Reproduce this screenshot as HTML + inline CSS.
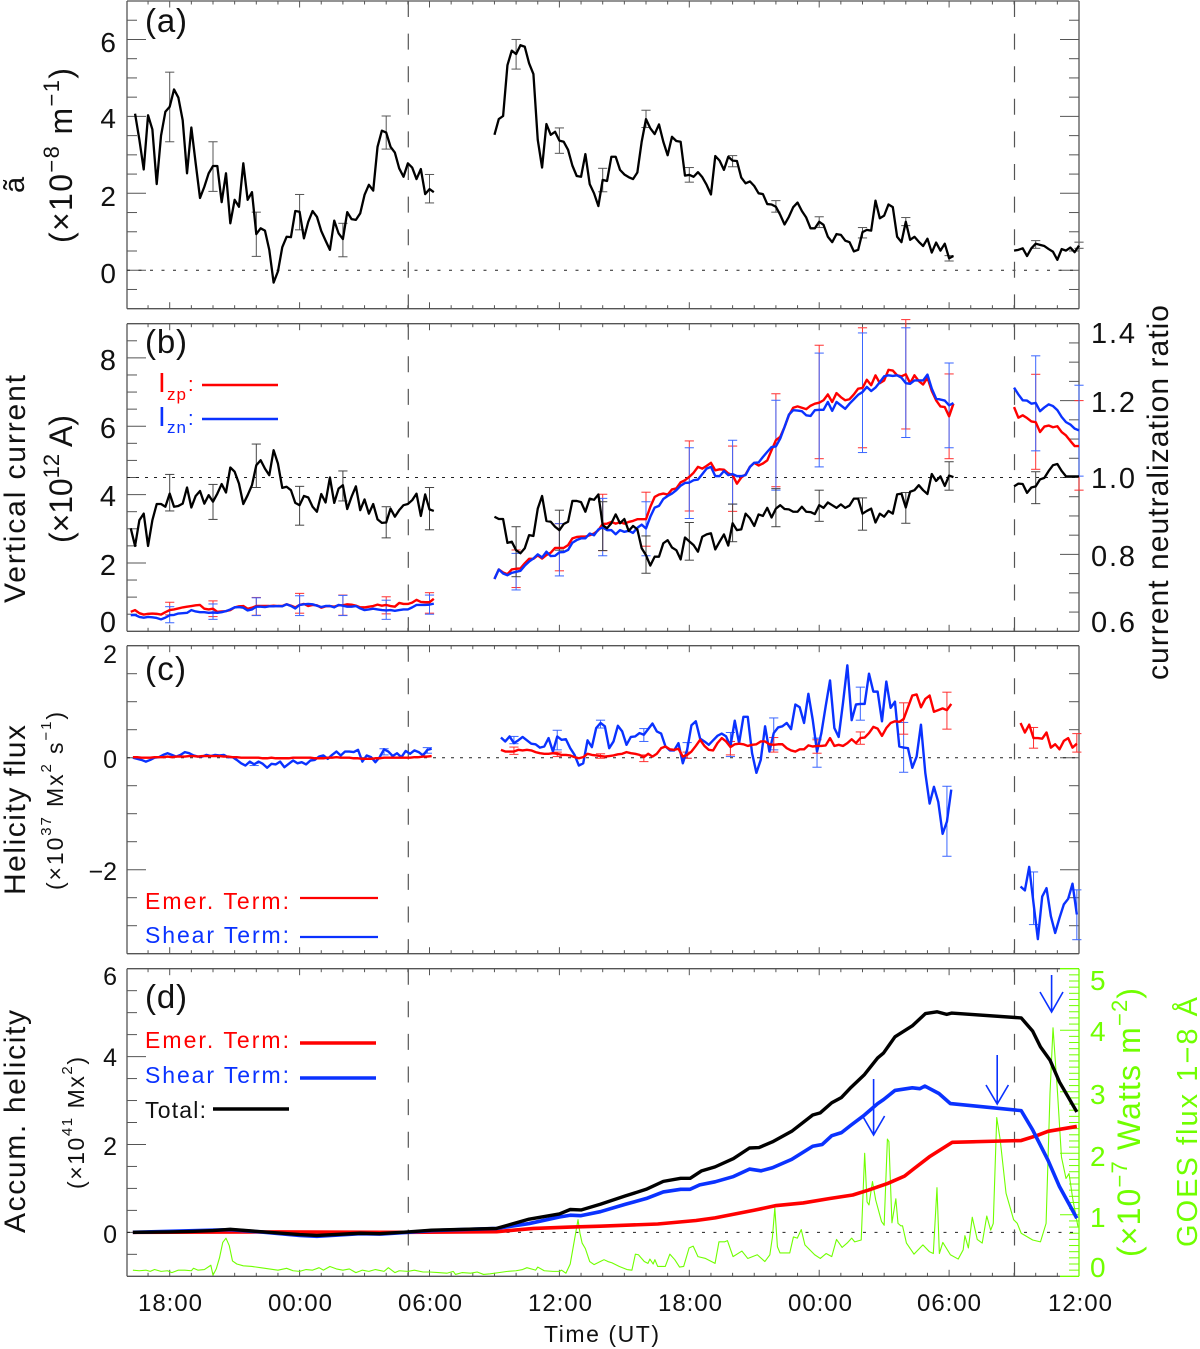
<!DOCTYPE html>
<html lang="en">
<head>
<meta charset="utf-8">
<title>Active region time series</title>
<style>
html,body{margin:0;padding:0;background:#fff}
svg{display:block}
text{font-family:"Liberation Sans","DejaVu Sans",sans-serif;fill:#111}
.r{fill:#ff0000}.b{fill:#0a32ff}.g{fill:#70ff00}
</style>
</head>
<body>
<svg id="chart" xmlns="http://www.w3.org/2000/svg" width="1200" height="1349" viewBox="0 0 1200 1349">
<g id="marks"></g>
<g font-size="33">
<text x="145" y="32" textLength="42">(a)</text>
<text x="145" y="353" textLength="42">(b)</text>
<text x="145" y="680" textLength="41">(c)</text>
<text x="145" y="1008" textLength="42">(d)</text>
</g>
<g font-size="28" text-anchor="end">
<text x="116" y="52">6</text>
<text x="116" y="128">4</text>
<text x="116" y="206">2</text>
<text x="116" y="283">0</text>
</g>
<g font-size="29" text-anchor="end">
<text x="116" y="370">8</text>
<text x="116" y="438">6</text>
<text x="116" y="506">4</text>
<text x="116" y="575">2</text>
<text x="116" y="632">0</text>
</g>
<g font-size="29">
<text x="1091" y="343" textLength="44">1.4</text>
<text x="1091" y="412" textLength="44">1.2</text>
<text x="1091" y="488" textLength="44">1.0</text>
<text x="1091" y="566" textLength="44">0.8</text>
<text x="1091" y="632" textLength="44">0.6</text>
</g>
<g font-size="25" text-anchor="end">
<text x="117" y="663">2</text>
<text x="117" y="768">0</text>
<text x="117" y="880">−2</text>
</g>
<g font-size="25" text-anchor="end">
<text x="117" y="985">6</text>
<text x="117" y="1066">4</text>
<text x="117" y="1155">2</text>
<text x="117" y="1243">0</text>
</g>
<g font-size="28" class="g">
<text class="g" x="1090" y="990">5</text>
<text class="g" x="1090" y="1041">4</text>
<text class="g" x="1090" y="1104">3</text>
<text class="g" x="1090" y="1166">2</text>
<text class="g" x="1090" y="1227">1</text>
<text class="g" x="1090" y="1277">0</text>
</g>
<g font-size="24" text-anchor="middle">
<text x="170" y="1311" textLength="64">18:00</text>
<text x="300" y="1311" textLength="64">00:00</text>
<text x="430" y="1311" textLength="64">06:00</text>
<text x="560" y="1311" textLength="64">12:00</text>
<text x="690" y="1311" textLength="64">18:00</text>
<text x="820" y="1311" textLength="64">00:00</text>
<text x="949" y="1311" textLength="64">06:00</text>
<text x="1080" y="1311" textLength="64">12:00</text>
</g>
<text x="544" y="1342" font-size="23" textLength="115">Time  (UT)</text>

<text transform="translate(24,193) rotate(-90)" font-size="29">ã</text>
<text transform="translate(72,243) rotate(-90)" font-size="32" xml:space="preserve" textLength="175">(×10<tspan dy="-13" font-size="22">−8</tspan><tspan dy="13"> m</tspan><tspan dy="-13" font-size="22">−1</tspan><tspan dy="13">)</tspan></text>
<text transform="translate(25,603) rotate(-90)" font-size="30" textLength="228">Vertical  current</text>
<text transform="translate(72,543) rotate(-90)" font-size="32" xml:space="preserve" textLength="128">(×10<tspan dy="-13" font-size="22">12</tspan><tspan dy="13"> A)</tspan></text>
<text transform="translate(1168,680) rotate(-90)" font-size="30" textLength="375">current  neutralization  ratio</text>
<text transform="translate(25,895) rotate(-90)" font-size="30" textLength="170">Helicity  flux</text>
<text transform="translate(63,890) rotate(-90)" font-size="23" xml:space="preserve" textLength="178">(×10<tspan dy="-12" font-size="15">37</tspan><tspan dy="12"> Mx</tspan><tspan dy="-12" font-size="15">2</tspan><tspan dy="12"> s</tspan><tspan dy="-12" font-size="15">−1</tspan><tspan dy="12">)</tspan></text>
<text transform="translate(25,1233) rotate(-90)" font-size="30" textLength="223">Accum.  helicity</text>
<text transform="translate(84,1189) rotate(-90)" font-size="23" xml:space="preserve" textLength="132">(×10<tspan dy="-12" font-size="15">41</tspan><tspan dy="12"> Mx</tspan><tspan dy="-12" font-size="15">2</tspan><tspan dy="12">)</tspan></text>
<text class="g" transform="translate(1140,1257) rotate(-90)" font-size="32" xml:space="preserve" textLength="269">(×10<tspan dy="-13" font-size="22">−7</tspan><tspan dy="13"> Watts m</tspan><tspan dy="-13" font-size="22">−2</tspan><tspan dy="13">)</tspan></text>
<text class="g" transform="translate(1197,1247) rotate(-90)" font-size="29" textLength="250">GOES  flux  1−8  Å</text>

<g>
<text class="r" x="158" y="392" font-size="28">I</text>
<text class="r" x="167" y="400" font-size="17" textLength="19">zp</text>
<text class="r" x="188" y="391" font-size="20">:</text>
<line x1="202" y1="385" x2="278" y2="385" stroke="#ff0000" stroke-width="2.4"/>
<text class="b" x="158" y="426" font-size="28">I</text>
<text class="b" x="167" y="433" font-size="17" textLength="19">zn</text>
<text class="b" x="188" y="425" font-size="20">:</text>
<line x1="202" y1="419" x2="278" y2="419" stroke="#0a32ff" stroke-width="2.4"/>
</g>
<g font-size="23">
<text class="r" x="145" y="909" textLength="144">Emer. Term:</text>
<line x1="300" y1="898" x2="378" y2="898" stroke="#ff0000" stroke-width="2.2"/>
<text class="b" x="145" y="943" textLength="144">Shear Term:</text>
<line x1="300" y1="937" x2="378" y2="937" stroke="#0a32ff" stroke-width="2.2"/>
</g>
<g font-size="23">
<text class="r" x="145" y="1048" textLength="144">Emer. Term:</text>
<line x1="300" y1="1043" x2="376" y2="1043" stroke="#ff0000" stroke-width="3.4"/>
<text class="b" x="145" y="1083" textLength="144">Shear Term:</text>
<line x1="300" y1="1078" x2="376" y2="1078" stroke="#0a32ff" stroke-width="3.4"/>
<text x="145" y="1118" textLength="61">Total:</text>
<line x1="213" y1="1109" x2="289" y2="1109" stroke="#000" stroke-width="3.4"/>
</g>
<g fill="none" stroke="#0a32ff" stroke-width="1.6">
<path d="M873.6 1079V1135M862.6 1116L873.6 1135L884.6 1116"/>
<path d="M997.2 1055V1104M986 1085L997.2 1104L1008.4 1085"/>
<path d="M1051.6 975V1012M1040 992L1051.6 1012L1063 992"/>
</g>
</svg>
<script>
// ---- time segments (hours since the first 18:00 tick), 12-minute cadence ----
const cadence = 0.2;
const alphaStarts = [-1.6, 15, 39];
const currentStarts = [-1.8, 15, 39];
const fluxStarts = [-1.7, 15.3, 39.3];

// ---- panel (a) ----
const alphaSeg1 = [4.07,3.39,2.62,4.03,3.66,2.24,3.5,4.12,4.25,4.7,4.49,3.9,2.52,3.71,2.78,1.88,2.17,2.52,2.71,2.71,1.77,2.52,1.22,1.83,1.65,2.78,1.83,2.03,0.94,1.09,1.03,0.53,-0.32,-0.03,0.6,0.87,0.86,1.54,1.52,0.83,1.26,1.54,1.39,1.02,0.77,0.53,1.29,0.96,0.81,1.51,1.33,1.31,1.48,1.96,2.22,2.07,3.21,3.63,3.58,3.21,3.06,2.65,2.43,2.78,2.67,2.37,2.63,1.98,2.11,2.03];
const alphaSeg2 = [3.52,3.93,4.01,5.33,5.71,5.62,5.85,5.81,5.38,5.1,3.39,2.67,3.8,3.52,3.6,3.37,3.34,3.13,2.72,2.45,2.43,3.02,2.24,2.0,1.67,2.35,2.32,2.95,2.95,2.61,2.49,2.42,2.37,2.54,3.34,3.93,3.69,3.54,3.79,3.34,2.99,3.47,3.36,3.34,2.46,2.48,2.43,2.55,2.42,2.22,1.97,2.97,2.85,2.61,2.95,2.85,2.84,2.41,2.26,2.31,2.19,2.0,1.98,1.72,1.71,1.65,1.44,1.19,1.39,1.64,1.76,1.54,1.37,1.09,1.09,1.26,1.18,0.87,0.73,0.94,0.92,0.77,0.73,0.49,0.53,0.99,1.05,1.03,1.81,1.35,1.42,1.71,1.64,0.87,0.73,1.26,0.79,0.87,0.74,0.63,0.82,0.46,0.72,0.51,0.69,0.31,0.37];
const alphaSeg3 = [0.51,0.53,0.57,0.37,0.57,0.69,0.66,0.63,0.55,0.48,0.27,0.55,0.51,0.59,0.47,0.64];
const alphaErrT = [0,2,4,6,8,10,12,16,18,20,22,24,26,28,30,32,34,36,40,42];
const alphaErrHi = [5.15,3.34,1.51,1.97,1.22,4.01,2.49,6.0,3.7,2.65,4.16,2.67,2.98,1.81,1.39,1.11,1.37,0.38,0.77,0.73];
const alphaErrLo = [3.34,2.05,0.36,1.05,0.35,3.15,1.75,5.23,3.04,2.04,3.71,2.29,2.69,1.51,1.11,0.84,1.16,0.24,0.57,0.57];

// ---- panel (b) ----
const ratioSeg1 = [.868,.822,.889,.906,.822,.889,.931,.931,.924,.958,.924,.926,.932,.974,.922,.952,.965,.932,.954,.937,.958,.983,.961,1.026,1.015,.984,.931,.954,.980,1.032,1.045,1.023,1.006,1.071,1.036,.973,.976,.967,.934,.928,.952,.948,.924,.911,.957,.935,1.0,.934,.971,.980,.918,.950,.977,.915,.943,.906,.931,.891,.882,.883,.919,.898,.915,.928,.931,.941,.958,.900,.956,.917,.913];
const ratioSeg2 = [.898,.892,.892,.830,.833,.811,.803,.816,.850,.848,.919,.952,.887,.885,.872,.863,.879,.885,.939,.939,.936,.911,.945,.942,.956,.876,.868,.881,.904,.881,.892,.861,.874,.865,.816,.798,.771,.794,.794,.829,.837,.818,.811,.787,.844,.834,.824,.807,.846,.852,.855,.813,.833,.852,.823,.881,.863,.865,.906,.894,.874,.904,.900,.921,.896,.919,.928,.918,.917,.911,.911,.924,.911,.910,.905,.928,.921,.935,.928,.921,.930,.921,.927,.945,.945,.906,.913,.919,.883,.906,.898,.913,.906,.956,.958,.922,.963,.967,.980,.967,.957,1.009,.991,1.003,.978,1.005,1.001];
const ratioSeg3 = [.977,.984,.983,.960,.974,.977,.995,.999,1.017,1.032,1.035,1.017,1.003,1.003,1.003,1.003];
const izpSeg1 = [.57,.62,.53,.49,.51,.52,.51,.49,.56,.62,.64,.67,.70,.72,.74,.76,.77,.66,.64,.66,.57,.58,.59,.62,.70,.73,.74,.66,.69,.74,.74,.74,.74,.75,.74,.74,.79,.75,.70,.77,.80,.74,.77,.76,.69,.73,.74,.72,.76,.76,.79,.78,.75,.70,.70,.72,.74,.78,.75,.77,.74,.72,.83,.80,.80,.84,.92,.86,.85,.85,.95];
const izpSeg2 = [1.53,1.81,1.72,1.67,1.81,1.83,1.84,1.99,2.12,2.12,2.22,2.13,2.23,2.30,2.44,2.44,2.44,2.52,2.72,2.76,2.77,2.77,2.81,2.86,2.96,3.14,3.15,3.20,3.15,3.19,3.15,3.20,3.23,3.28,3.28,3.28,3.64,3.93,4.00,4.03,4.00,4.15,4.18,4.36,4.42,4.52,4.64,4.81,4.76,4.84,4.93,4.71,4.74,4.73,4.62,4.57,4.32,4.50,4.59,4.81,4.93,4.85,4.91,5.00,5.30,5.59,5.69,5.98,6.32,6.54,6.58,6.54,6.50,6.60,6.66,6.69,6.76,6.93,6.71,6.97,6.85,6.76,6.79,6.93,7.10,7.12,7.36,7.20,7.49,7.26,7.34,7.65,7.63,7.49,7.46,7.52,7.26,7.49,7.32,7.22,7.42,7.03,6.76,6.58,6.56,6.29,6.66];
const izpSeg3 = [6.56,6.25,6.32,6.24,6.14,6.12,5.83,5.99,6.02,5.97,6.00,5.83,5.73,5.57,5.42,5.42];
const iznSeg1 = [.47,.48,.42,.40,.42,.41,.39,.35,.40,.47,.48,.52,.53,.54,.62,.58,.56,.56,.54,.55,.54,.56,.59,.64,.70,.71,.69,.61,.64,.72,.72,.71,.73,.73,.74,.73,.79,.74,.67,.77,.79,.80,.79,.75,.71,.74,.74,.70,.77,.75,.72,.72,.74,.67,.62,.64,.66,.64,.62,.61,.62,.60,.62,.64,.64,.70,.77,.77,.77,.78,.81];
const iznSeg2 = [1.53,1.81,1.69,1.64,1.71,1.74,1.77,1.92,2.04,2.13,2.25,2.16,2.33,2.20,2.21,2.31,2.32,2.38,2.59,2.67,2.72,2.72,2.86,2.81,2.98,3.04,2.96,2.96,2.84,2.96,2.91,2.94,2.88,3.03,3.12,3.01,3.35,3.62,3.67,3.87,3.96,4.03,4.13,4.26,4.34,4.35,4.42,4.44,4.60,4.76,4.81,4.54,4.54,4.69,4.57,4.60,4.54,4.54,4.57,4.81,4.93,4.94,5.10,5.25,5.39,5.41,5.64,5.98,6.34,6.47,6.46,6.44,6.32,6.30,6.47,6.48,6.48,6.71,6.45,6.71,6.61,6.51,6.66,6.79,6.92,7.00,7.15,7.03,7.13,7.29,7.46,7.49,7.47,7.49,7.42,7.26,7.24,7.34,7.34,7.34,7.51,7.10,6.81,6.78,6.75,6.61,6.68];
const iznSeg3 = [7.13,6.93,6.76,6.75,6.66,6.68,6.44,6.55,6.64,6.59,6.47,6.27,6.12,6.05,5.93,5.88];
const currentErrT = [0,2,4,6,8,10,12,16,18,20,22,24,26,28,30,32,34,36,40,42];
const izpErrHi = [.85,.89,.99,1.11,1.06,1.01,1.13,2.38,3.15,4.01,4.07,5.57,5.42,6.95,8.37,8.88,9.12,7.53,7.52,6.75];
const izpErrLo = [.48,.43,.47,.53,.47,.51,.53,1.28,1.77,2.36,2.49,3.52,3.51,4.23,5.05,5.37,5.92,5.05,4.74,4.13];
const iznErrHi = [.72,.80,.98,1.04,1.05,.91,1.06,2.28,3.15,3.89,3.79,5.37,5.59,6.76,8.14,8.73,8.88,7.85,8.06,7.20];
const iznErrLo = [.25,.35,.46,.46,.46,.35,.50,1.21,1.62,2.21,2.21,3.30,3.72,4.13,4.81,5.23,5.67,5.37,5.28,4.54];
const ratioErrT = [0,2,4,6,8,10,12,16,18,20,22,24,26,28,30,32,34,36,40];
const ratioErrHi = [1.008,.982,1.087,.977,1.017,.924,.974,.872,.915,.937,.848,.883,.931,.971,.967,.947,.961,1.041,1.015];
const ratioErrLo = [.913,.891,.974,.876,.939,.843,.864,.742,.811,.810,.751,.785,.833,.872,.886,.863,.881,.967,.932];

// ---- panel (c) ----
const shearSeg1 = [0,-.02,-.04,-.07,-.04,0,.01,.05,.08,.05,.02,.05,.10,.08,.04,.02,.02,.05,.03,.05,.04,.05,.01,.01,-.04,-.10,-.14,-.07,-.12,-.07,-.11,-.18,-.11,-.12,-.07,-.17,-.11,-.05,-.10,-.08,-.12,-.05,-.04,.02,.04,-.02,.05,.11,.04,.11,.11,.10,.14,-.07,.04,.01,-.08,.01,.15,.11,.03,.08,.01,.12,.07,.13,.10,.04,.14,.16];
const shearSeg2 = [.36,.29,.38,.26,.31,.37,.31,.25,.24,.18,.20,.35,.11,.38,.32,.33,.17,.05,-.14,-.10,.31,.19,.53,.62,.56,.17,.29,.57,.47,.23,.37,.38,.44,.41,.51,.61,.47,.43,.20,.13,.13,.26,-.10,.14,.58,.65,.34,.29,.23,.31,.39,.43,.38,.20,.66,.26,.73,.73,.08,-.27,-.04,.56,.11,.44,.54,.56,.62,.51,.95,.90,.62,1.14,.68,.11,.44,.92,1.38,.53,.37,.98,1.65,.67,.95,.96,.96,1.50,1.18,1.18,.65,1.36,.89,1.00,.20,.18,.17,-.18,.02,.59,-.27,-.82,-.52,-.79,-1.36,-1.14,-.57];
const shearSeg3 = [-2.30,-2.37,-1.95,-2.60,-3.24,-2.48,-2.33,-2.83,-3.13,-2.86,-2.62,-2.52,-2.25,-2.80];
const emerSeg1 = [.01,.01,0,0,0,.01,.01,.01,.02,.01,.02,.02,.02,.03,.03,.02,.03,.03,.03,.03,.03,.02,.02,.01,.01,0,0,0,0,0,-.01,-.01,0,-.01,-.01,-.01,-.01,0,0,0,0,0,-.01,-.01,-.01,0,0,.01,0,0,0,-.01,-.01,-.02,-.02,-.02,-.01,-.01,0,0,0,0,0,0,0,.01,.01,.02,.02,.03];
const emerSeg2 = [.14,.11,.11,.11,.14,.13,.14,.13,.10,.08,.07,.07,.08,.07,.05,.05,.04,.01,-.01,.01,.07,.05,.04,.03,.02,.03,.04,.06,.07,.10,.08,.07,.05,.01,.07,.02,.07,.17,.20,.15,.14,.16,.02,.05,.11,.21,.32,.21,.14,.13,.26,.35,.29,.19,.24,.25,.24,.21,.23,.24,.29,.29,.24,.23,.24,.24,.17,.13,.11,.15,.15,.22,.20,.21,.21,.22,.35,.21,.23,.21,.26,.33,.26,.35,.36,.44,.55,.52,.39,.53,.62,.65,.64,.69,.90,1.11,1.13,.90,1.05,1.11,.82,.85,.88,.85,.96];
const emerSeg3 = [.62,.45,.59,.35,.35,.34,.45,.18,.24,.15,.30,.35,.18,.25];
const shearErrT = [3.9,9.9,11.9,15.9,17.9,19.9,21.9,23.9,25.9,27.9,29.9,31.9,33.9,35.9,39.9,41.9];
const shearErrHi = [-.10,.16,.18,.38,.49,.67,.52,.27,.45,.71,.35,1.26,.63,-.51,-2.04,-2.36];
const shearErrLo = [-.14,.05,.08,.25,.14,.53,.29,-.01,.02,.14,-.17,.67,-.26,-1.76,-2.98,-3.25];
const emerErrT = [15.9,17.9,19.9,21.9,23.9,25.9,27.9,29.9,31.9,33.9,35.9,39.9,41.9];
const emerErrHi = [.19,.10,.07,.05,.10,.29,.36,.32,.46,.98,1.17,.54,.43];
const emerErrLo = [.06,.02,-.01,-.07,-.01,.05,.10,.08,.24,.42,.51,.17,.10];

// ---- panel (d) ----
const totalT = [-1.7,0,1,2,2.8,4.2,6,6.8,8.8,9.7,11,12.1,15.1,16.6,18,18.5,19,19.89,21.05,22.01,22.80,23.60,24.04,24.57,25.19,26.04,26.78,27.22,27.84,28.73,29.70,30.05,30.58,31.03,31.47,32.09,32.70,32.97,33.50,34.30,34.91,35.44,35.89,36.11,39.33,39.86,40.22,40.66,41.10,41.90];
const totalV = [0,.01,.02,.04,.07,.015,-.05,-.07,-.02,-.03,.01,.05,.09,.30,.42,.52,.51,.64,.83,.98,1.16,1.23,1.23,1.40,1.49,1.68,1.92,1.93,2.06,2.30,2.67,2.72,2.95,3.07,3.30,3.59,3.97,4.08,4.45,4.70,4.98,5.02,4.96,4.99,4.88,4.58,4.22,3.92,3.42,2.74];
const shearAccT = [-1.7,2.8,4.2,6,6.8,8.8,9.7,11,12.1,15.1,16.6,18,18.5,19,19.89,21.05,22.01,22.80,23.60,24.04,24.48,25.19,26.04,26.78,27.31,27.84,28.73,29.70,30.14,30.58,31.03,31.47,32.09,32.70,32.97,33.50,34.30,34.65,34.88,35.53,36.06,39.33,39.86,40.57,41.10,41.90];
const shearAccV = [0,.06,.01,-.07,-.09,-.03,-.04,0,.04,.09,.20,.35,.39,.38,.47,.64,.77,.92,.98,.98,1.08,1.15,1.27,1.44,1.40,1.47,1.66,1.96,2.00,2.20,2.27,2.44,2.67,2.93,3.02,3.23,3.29,3.27,3.33,3.16,2.93,2.77,2.33,1.64,1.04,.32];
const emerAccT = [-1.7,5,11,15.1,16.8,18.5,19.89,22.54,24.31,25.19,26.96,28.02,29.26,30.49,31.55,32.26,33.15,33.94,34.38,35.09,36.15,39.33,40.04,40.57,41.90];
const emerAccV = [0,.01,0,.015,.09,.12,.14,.19,.27,.33,.50,.61,.67,.77,.85,.96,1.11,1.28,1.45,1.72,2.05,2.09,2.20,2.30,2.41];
const goesT = [-1.7,-1.4,-1.1,-.9,-.7,-.4,-.1,.1,.4,.7,1,1.1,1.3,1.6,1.9,2.0,2.15,2.3,2.45,2.6,2.75,2.9,3.1,3.4,3.8,4.2,4.6,5.0,5.4,5.7,6.0,6.3,6.6,6.9,7.1,7.4,7.7,8.0,8.3,8.6,8.9,9.2,9.5,9.9,10.1,10.4,10.6,11,11.3,11.7,12,12.4,12.8,13.1,13.2,13.5,13.9,14.2,14.5,14.8,15.2,15.6,16,16.3,16.5,16.9,17,17.3,17.7,18.0,18.1,18.3,18.5,18.7,18.86,18.95,19.05,19.2,19.4,19.6,19.89,20.06,20.24,20.42,20.77,21.12,21.35,21.51,21.65,21.92,22.09,22.18,22.33,22.41,22.54,22.89,23.10,23.33,23.55,23.74,23.99,24.18,24.40,24.75,25.19,25.37,25.63,25.76,26.02,26.43,26.70,27.14,27.49,27.72,27.84,27.95,28.07,28.19,28.64,28.81,28.99,29.17,29.34,29.79,30.05,30.32,30.58,30.80,31.06,31.29,31.50,31.64,31.94,32.10,32.21,32.30,32.46,32.61,32.88,33.00,33.15,33.22,33.36,33.54,33.64,33.77,33.85,34.03,34.38,34.79,35.09,35.27,35.44,35.55,35.71,36.06,36.42,36.65,36.73,36.89,37.07,37.30,37.53,37.74,37.92,38.04,38.20,38.36,38.63,38.98,39.15,39.33,39.86,40.22,40.48,40.66,40.80,41.01,41.19,41.40,41.54,41.72,41.95];
const goesV = [.10,.09,.10,.08,.11,.08,.09,.06,.10,.10,.09,.13,.10,.11,.18,.02,.12,.30,.55,.62,.50,.25,.20,.17,.16,.14,.12,.10,.13,.09,.08,.11,.10,.14,.10,.16,.12,.10,.12,.06,.10,.08,.11,.08,.14,.06,.09,.08,.10,.07,.07,.06,.05,.08,.03,.06,.05,.07,.03,.04,.06,.08,.09,.11,.14,.10,.15,.09,.08,.08,.10,.05,.20,.60,.92,.70,.54,.45,.24,.19,.24,.27,.24,.22,.16,.11,.10,.36,.35,.24,.21,.28,.20,.27,.16,.16,.36,.27,.15,.16,.46,.49,.32,.29,.21,.56,.56,.58,.32,.41,.29,.35,.24,.35,.64,1.11,.48,.38,.38,.64,.62,.76,.51,.35,.29,.37,.32,.60,.47,.54,.62,.56,.59,2.00,1.21,1.16,1.54,1.24,.89,.83,2.23,2.19,.87,1.26,.86,.82,.82,.54,.36,.51,.40,.37,1.44,.37,.55,.35,.28,.43,.66,.46,.96,.60,.54,.98,.75,.86,2.58,2.22,1.35,.92,.86,.70,.59,.56,.86,2.97,4.04,2.97,1.94,1.59,1.67,1.24,.81];

// ---- axis functions ----
const xLeft = 127, xRight = 1079;
function xT(t) { return 169.7 + 21.65 * t; }
function scale(v0, v1, y0, y1) { return v => y0 + (v - v0) * (y1 - y0) / (v1 - v0); }
const yA = scale(-1, 7, 308.7, 1);
const yB = scale(0, 9, 631.3, 323.7);
const yR = scale(0.6, 1.4, 631.3, 323.7);
const yC = scale(-3.5, 2, 953.7, 645.7);
const yD = scale(-1, 6, 1276.3, 968.7);
const yG = scale(0, 5, 1276.3, 968.7);

const root = document.getElementById('marks');
const NS = 'http://www.w3.org/2000/svg';
const AXIS = '#555', BLACK = '#000', RED = '#ff0000', BLUE = '#0a32ff', GREEN = '#70ff00';

function seg(name, x1, y1, x2, y2, color, w, dash) {
  const el = document.createElementNS(NS, 'line');
  el.setAttribute('x1', x1.toFixed(2));
  el.setAttribute('y1', y1.toFixed(2));
  el.setAttribute('x2', x2.toFixed(2));
  el.setAttribute('y2', y2.toFixed(2));
  el.setAttribute('stroke', color);
  el.setAttribute('stroke-width', w);
  if (dash) el.setAttribute('stroke-dasharray', dash);
  
  
  root.appendChild(el);
}
function poly(name, pts, color, w) {
  const el = document.createElementNS(NS, 'polyline');
  el.setAttribute('points', pts.map(p => p[0].toFixed(2) + ',' + p[1].toFixed(2)).join(' '));
  el.setAttribute('fill', 'none');
  el.setAttribute('stroke', color);
  el.setAttribute('stroke-width', w);
  el.setAttribute('stroke-linejoin', 'round');
  
  
  root.appendChild(el);
}
function series(name, segments, starts, y, color, w) {
  segments.forEach((vals, k) => {
    poly(name, vals.map((v, i) => [xT(starts[k] + i * cadence), y(v)]), color, w);
  });
}
function errorBars(name, ts, hi, lo, y, color) {
  ts.forEach((t, i) => {
    const x = xT(t), cap = 4.6;
    seg(name, x, y(hi[i]), x, y(lo[i]), color, 1);
    seg(name, x - cap, y(hi[i]), x + cap, y(hi[i]), color, 1);
    seg(name, x - cap, y(lo[i]), x + cap, y(lo[i]), color, 1);
  });
}
function xTicks(top, bottom, maxT) {
  for (let t = -1; t <= maxT; t++) {
    const major = ((t % 6) + 6) % 6 === 0;
    const len = major ? 6.5 : 3.5;
    seg('x-tick', xT(t), top, xT(t), top + len, AXIS, 1);
    seg('x-tick', xT(t), bottom, xT(t), bottom - len, AXIS, 1);
  }
}
function yTicks(y, from, to, step, majorEvery, x0, dir, color) {
  const n = Math.round((to - from) / step);
  for (let i = 0; i <= n; i++) {
    const v = from + i * step;
    const major = Math.abs(v / majorEvery - Math.round(v / majorEvery)) < 1e-6;
    seg('y-tick', x0, y(v), x0 + dir * (major ? 19 : 10), y(v), color, 1);
  }
}
function box(name, top, bottom, rightEnd) {
  seg(name, xLeft, top, rightEnd, top, AXIS, 1.3);
  seg(name, xLeft, bottom, rightEnd, bottom, AXIS, 1.3);
  seg(name, xLeft, top, xLeft, bottom, AXIS, 1.3);
}
function eventLines(top, bottom) {
  seg('event-dashed-line', 408.3, top, 408.3, bottom, AXIS, 1.2, '16 16.6');
  seg('event-dashed-line', 1014.5, top, 1014.5, bottom, AXIS, 1.2, '16 16.6');
}
function zeroLine(y, dash) {
  seg('reference-dotted-line', xLeft, y, xRight, y, '#222', 1, dash);
}

// Panel (a)
box('panel-a-frame', yA(7), yA(-1), xRight);
seg('panel-a-frame', xRight, yA(7), xRight, yA(-1), AXIS, 1.3);
xTicks(yA(7), yA(-1), 41);
yTicks(yA, -0.5, 6.5, 0.5, 2, xLeft, 1, AXIS);
yTicks(yA, -0.5, 6.5, 0.5, 2, xRight, -1, AXIS);
zeroLine(yA(0), '3 8.5');
eventLines(yA(7), yA(-1));
errorBars('alpha-error-bar', alphaErrT, alphaErrHi, alphaErrLo, yA, '#555');
series('alpha-line', [alphaSeg1, alphaSeg2, alphaSeg3], alphaStarts, yA, BLACK, 2.3);

// Panel (b)
box('panel-b-frame', yB(9), yB(0), xRight);
seg('panel-b-frame', xRight, yB(9), xRight, yB(0), AXIS, 1.3);
xTicks(yB(9), yB(0), 41);
yTicks(yB, 0.5, 8.5, 0.5, 2, xLeft, 1, AXIS);
yTicks(yR, 0.65, 1.35, 0.05, 0.2, xRight, -1, AXIS);
zeroLine(yR(1), '3 6');
eventLines(yB(9), yB(0));
errorBars('izp-error-bar', currentErrT, izpErrHi, izpErrLo, yB, '#ff3030');
errorBars('izn-error-bar', currentErrT, iznErrHi, iznErrLo, yB, '#3a66ff');
errorBars('ratio-error-bar', ratioErrT, ratioErrHi, ratioErrLo, yR, '#444');
series('izp-line', [izpSeg1, izpSeg2, izpSeg3], currentStarts, yB, RED, 2.4);
series('izn-line', [iznSeg1, iznSeg2, iznSeg3], currentStarts, yB, BLUE, 2.4);
series('ratio-line', [ratioSeg1, ratioSeg2, ratioSeg3], currentStarts, yR, BLACK, 2.3);

// Panel (c)
box('panel-c-frame', yC(2), yC(-3.5), xRight);
seg('panel-c-frame', xRight, yC(2), xRight, yC(-3.5), AXIS, 1.3);
xTicks(yC(2), yC(-3.5), 41);
yTicks(yC, -3, 1.5, 0.5, 2, xLeft, 1, AXIS);
yTicks(yC, -3, 1.5, 0.5, 2, xRight, -1, AXIS);
zeroLine(yC(0), '3 6');
eventLines(yC(2), yC(-3.5));
errorBars('shear-error-bar', shearErrT, shearErrHi, shearErrLo, yC, '#3a66ff');
errorBars('emer-error-bar', emerErrT, emerErrHi, emerErrLo, yC, '#ff3030');
series('shear-flux-line', [shearSeg1, shearSeg2, shearSeg3], fluxStarts, yC, BLUE, 2.4);
series('emer-flux-line', [emerSeg1, emerSeg2, emerSeg3], fluxStarts, yC, RED, 2.4);

// Panel (d)
box('panel-d-frame', yD(6), yD(-1), 1060);
xTicks(yD(6), yD(-1), 41);
yTicks(yD, -0.5, 5.5, 0.5, 2, xLeft, 1, AXIS);
seg('goes-axis', xRight, yG(5), xRight, yG(0), GREEN, 1.3);
seg('goes-axis', 1060, yG(5), xRight, yG(5), GREEN, 1.3);
seg('goes-axis', 1060, yG(0), xRight, yG(0), GREEN, 1.3);
yTicks(yG, 0.1, 4.9, 0.1, 1, xRight, -1, GREEN);
zeroLine(yD(0), '3 8.5');
eventLines(yD(6), yD(-1));
poly('goes-flux-line', goesT.map((t, i) => [xT(t), yG(goesV[i])]), GREEN, 1.1);
poly('emer-accum-line', emerAccT.map((t, i) => [xT(t), yD(emerAccV[i])]), RED, 3.6);
poly('shear-accum-line', shearAccT.map((t, i) => [xT(t), yD(shearAccV[i])]), BLUE, 3.6);
poly('total-accum-line', totalT.map((t, i) => [xT(t), yD(totalV[i])]), BLACK, 3.4);
</script>
</body>
</html>
